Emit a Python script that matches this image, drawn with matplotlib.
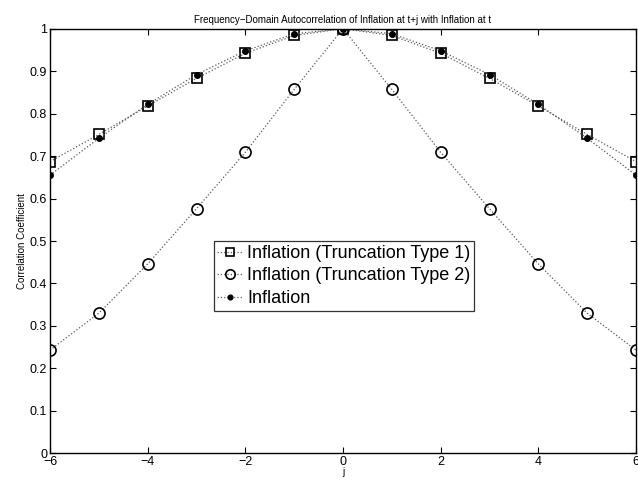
import numpy as np
import matplotlib

matplotlib.use("Agg")
import matplotlib.pyplot as plt

plt.rcParams['font.family'] = ['Liberation Sans', 'DejaVu Sans']

# lags
j = [-6, -5, -4, -3, -2, -1, 0, 1, 2, 3, 4, 5, 6]

# (symmetric around j = 0)
trunc1 = [0.687, 0.751, 0.818, 0.883, 0.942, 0.984, 1.0, 0.984, 0.942, 0.883, 0.818, 0.751, 0.687]
trunc2 = [0.243, 0.330, 0.446, 0.576, 0.709, 0.857, 1.0, 0.857, 0.709, 0.576, 0.446, 0.330, 0.243]
inflation = [0.655, 0.742, 0.822, 0.892, 0.948, 0.988, 1.0, 0.988, 0.948, 0.892, 0.822, 0.742, 0.655]

fig = plt.figure(figsize=(6.38, 4.88), dpi=100)
ax = fig.add_axes([50 / 638, 1 - 453.3 / 488, 586 / 638, 424.6 / 488])

line_kw = dict(linestyle=':', color='0.35', linewidth=0.9)
ax.plot(j, trunc1, marker='s', markersize=7, markerfacecolor='none', markeredgecolor='k',
        markeredgewidth=1.2, label='Inflation (Truncation Type 1)', **line_kw)
ax.plot(j, trunc2, marker='o', markersize=8, markerfacecolor='none', markeredgecolor='k',
        markeredgewidth=1.2, label='Inflation (Truncation Type 2)', **line_kw)
ax.plot(j, inflation, marker='o', markersize=4, markerfacecolor='k', markeredgecolor='k',
        label='Inflation', **line_kw)

ax.set_xlim(-6, 6)
ax.set_ylim(0, 1)
ax.set_xticks(np.arange(-6, 7, 2))
ax.set_yticks(np.arange(0, 1.01, 0.1))
ax.set_yticklabels(['0', '0.1', '0.2', '0.3', '0.4', '0.5', '0.6', '0.7', '0.8', '0.9', '1'])
ax.tick_params(direction='in', top=True, right=True, labelsize=9, length=4, width=0.8, pad=2)
ax.set_xticklabels(['\u22126', '\u22124', '\u22122', '0', '2', '4', '6'])
for s in ax.spines.values():
    s.set_linewidth(1.0)

ax.set_title('Frequency\u2212Domain Autocorrelation of Inflation at t+j with Inflation at t',
             fontsize=7, pad=4)
ax.set_xlabel('j', fontsize=7, labelpad=-1)
ax.set_ylabel('Correlation Coefficient', fontsize=7, labelpad=2)

leg = ax.legend(loc='center', bbox_to_anchor=((344 - 50) / 586, (453.3 - 276) / 424.6),
                fontsize=13, frameon=True, fancybox=False, edgecolor='k',
                handlelength=1.4, handletextpad=0.25, borderpad=0.2, labelspacing=0.3,
                borderaxespad=0, markerscale=0.85)
leg.get_frame().set_linewidth(0.9)

fig.savefig('out.png', dpi=100)
